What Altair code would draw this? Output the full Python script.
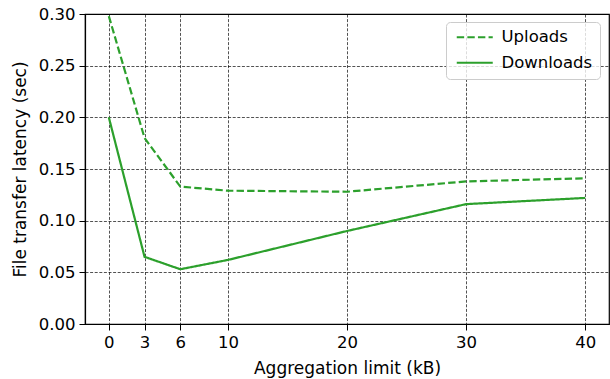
import altair as alt
import pandas as pd

limits = [0, 3, 6, 10, 20, 30, 40]
uploads = [0.298, 0.180, 0.133, 0.129, 0.128, 0.138, 0.141]
downloads = [0.200, 0.065, 0.053, 0.062, 0.090, 0.116, 0.122]
series_names = ["Uploads", "Downloads"]
x_ticks = [0, 3, 6, 10, 20, 30, 40]
y_ticks = [0.0, 0.05, 0.10, 0.15, 0.20, 0.25, 0.30]

rows = []
for name, vals in zip(series_names, [uploads, downloads]):
    for x, v in zip(limits, vals):
        rows.append({"limit": x, "latency": v, "series": name})
df = pd.DataFrame(rows)

FONT = "DejaVu Sans"
FS = 16.5
TFS = 17
GREEN = "#2ca02c"

chart = alt.Chart(df).mark_line(color=GREEN, strokeWidth=2.2).encode(
    x=alt.X("limit:Q",
            scale=alt.Scale(domain=[-2, 42], nice=False, zero=False),
            axis=alt.Axis(values=x_ticks, title="Aggregation limit (kB)",
                          format="d")),
    y=alt.Y("latency:Q",
            scale=alt.Scale(domain=[0, 0.3], nice=False),
            axis=alt.Axis(values=y_ticks, title="File transfer latency (sec)",
                          format=".2f")),
    strokeDash=alt.StrokeDash(
        "series:N",
        scale=alt.Scale(domain=series_names, range=[[7.4, 3.2], [1, 0]]),
        legend=alt.Legend(
            title=None, orient="none", legendX=361, legendY=8,
            symbolType="M-1,0L7,0", symbolSize=81, symbolStrokeWidth=2.2,
            symbolStrokeColor=GREEN, labelFontSize=FS, labelFont=FONT,
            labelColor="black", labelOffset=32, rowPadding=8.5, padding=7,
            fillColor="rgba(255,255,255,0.8)", strokeColor="#cccccc", cornerRadius=4,
        ),
    ),
    order=alt.Order("limit:Q"),
).properties(
    width=524, height=310,
    autosize=alt.AutoSizeParams(type="none"),
    padding={"left": 85, "top": 14, "right": 1, "bottom": 55},
).configure_view(
    stroke="black", strokeWidth=1.2
).configure_legend(
    strokeWidth=1
).configure_axis(
    labelFont=FONT, labelFontSize=FS, labelColor="black",
    titleFont=FONT, titleFontSize=TFS, titleColor="black", titleFontWeight="normal",
    domainColor="black", domainWidth=1.2,
    tickColor="black", tickSize=6, tickWidth=1,
    labelPadding=4,
    grid=True, gridColor="black", gridDash=[3, 1.6], gridWidth=0.8, gridOpacity=0.85,
).configure_axisY(
    titlePadding=9
).configure_axisX(
    titlePadding=10
)

chart.save("out.html", embed_options={"renderer": "svg", "actions": False})
